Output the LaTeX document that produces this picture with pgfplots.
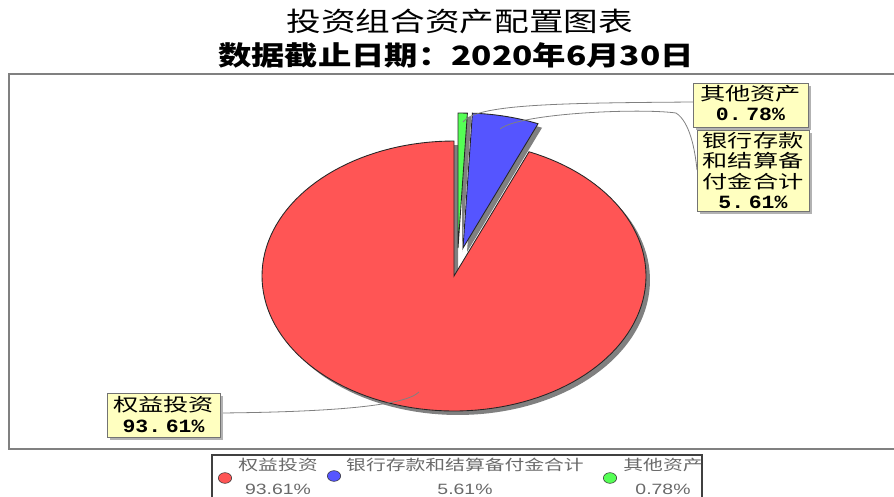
\documentclass[border=0pt]{standalone}
\usepackage{pgfplots}
\pgfplotsset{compat=1.18}
\usepackage{pgfplotstable}
\usepackage{graphicx}
\usepackage{fontspec}
\setmainfont{Liberation Sans}
\newfontfamily\cjk{Noto Sans CJK SC}
\newfontfamily\mono{Liberation Mono}
\definecolor{pieRed}{RGB}{255,85,85}
\definecolor{pieBlue}{RGB}{85,85,255}
\definecolor{pieGreen}{RGB}{85,255,85}
\definecolor{lblFill}{RGB}{255,255,192}
\definecolor{shadowGray}{RGB}{128,128,128}
\definecolor{legText}{RGB}{105,105,105}

% values (percent) of the three sections
\pgfplotstableread{
value
93.61
5.61
0.78
}\piedata

% one slice: #1 colour, #2 start angle, #3 end angle, #4 cx, #5 cy (pixel units, y downwards)
\newcommand\pieslice[5]{%
  \addplot[draw=none, fill=shadowGray, domain=#2:#3, samples=140, variable=\t]
    ({#4+4+192*cos(\t)}, {#5+4-135*sin(\t)}) -- (axis cs:#4+4,#5+4) -- cycle;
  \addplot[draw=black!85, line width=0.65pt, fill=#1, domain=#2:#3, samples=140, variable=\t]
    ({#4+192*cos(\t)}, {#5-135*sin(\t)}) -- (axis cs:#4,#5) -- cycle;
}
\newcommand\lbl[1]{\scalebox{1.4}[1]{\cjk\fontsize{13.5}{16}\selectfont #1}}
\newcommand\num[1]{\scalebox{1.15}[1]{\mono\bfseries\fontsize{14}{16}\selectfont #1}}
\newcommand\leg[1]{\scalebox{1.35}[1]{\cjk\fontsize{11}{13}\selectfont\color{legText}#1}}
\newcommand\legn[1]{\scalebox{1.3}[1]{\fontsize{11.2}{12}\selectfont\color{legText}#1}}

\begin{document}
\begin{tikzpicture}
\pgfplotstablegetelem{0}{value}\of\piedata \pgfmathsetmacro\vA{\pgfplotsretval}
\pgfplotstablegetelem{1}{value}\of\piedata \pgfmathsetmacro\vB{\pgfplotsretval}
\pgfplotstablegetelem{2}{value}\of\piedata \pgfmathsetmacro\vC{\pgfplotsretval}
\pgfmathsetmacro\aA{90}
\pgfmathsetmacro\aB{\aA+3.6*\vA}
\pgfmathsetmacro\aC{\aB+3.6*\vB}
\pgfmathsetmacro\aD{\aC+3.6*\vC}
\begin{axis}[
  width=670.5pt, height=372.75pt, scale only axis,
  xmin=0, xmax=894, ymin=0, ymax=497, y dir=reverse,
  hide axis, clip=false,
]
% plot frame
\draw[shadowGray, line width=1.5pt] (axis cs:9,74) rectangle (axis cs:910,449);

% titles
\node at (axis cs:460,21) {\scalebox{1.30}[1]{\cjk\fontsize{20}{24}\selectfont 投资组合资产配置图表}};
\node at (axis cs:456,55) {\scalebox{1.25}[1]{\cjk\bfseries\fontsize{20}{24}\selectfont 数据截止日期：2020年6月30日}};

% pie
\pieslice{pieRed}{\aA}{\aB}{454}{276}
\pieslice{pieBlue}{\aB}{\aC}{463}{248}
\pieslice{pieGreen}{\aC}{\aD}{458}{248}

% leader lines
\draw[shadowGray, line width=0.6pt] (axis cs:463,122) .. controls (axis cs:476,104) and (axis cs:560,103) .. (axis cs:693,102);
\draw[shadowGray, line width=0.6pt] (axis cs:500,129) .. controls (axis cs:520,113) and (axis cs:640,108) .. (axis cs:676,113)
      .. controls (axis cs:690,122) and (axis cs:695,150) .. (axis cs:697,170);
\draw[shadowGray, line width=0.6pt] (axis cs:220,413) .. controls (axis cs:330,412) and (axis cs:405,406) .. (axis cs:419,392);

% label boxes
\fill[black!30] (axis cs:696,86) rectangle (axis cs:811,130);
\filldraw[fill=lblFill, draw=black!55, line width=0.75pt] (axis cs:693,83) rectangle (axis cs:808,127);
\node at (axis cs:750.5,94) {\lbl{其他资产}};
\node at (axis cs:750.5,114) {\num{0.\kern3pt 78\%}};

\fill[black!30] (axis cs:700,133) rectangle (axis cs:812,214);
\filldraw[fill=lblFill, draw=black!55, line width=0.75pt] (axis cs:697,130) rectangle (axis cs:809,211);
\node at (axis cs:753,141) {\lbl{银行存款}};
\node at (axis cs:753,161) {\lbl{和结算备}};
\node at (axis cs:753,182) {\lbl{付金合计}};
\node at (axis cs:753,202) {\num{5.\kern3pt 61\%}};

\fill[black!30] (axis cs:110,396) rectangle (axis cs:223,440);
\filldraw[fill=lblFill, draw=black!55, line width=0.75pt] (axis cs:107,393) rectangle (axis cs:220,437);
\node at (axis cs:163.5,405) {\lbl{权益投资}};
\node at (axis cs:163.5,426) {\num{93.\kern3pt 61\%}};

% legend
\draw[black!75, line width=1.1pt] (axis cs:212,455) rectangle (axis cs:702,520);
\addplot[only marks, mark=*, mark size=4pt, mark options={fill=pieRed, draw=black!80, xscale=1.25}] coordinates {(225,478)};
\addplot[only marks, mark=*, mark size=4pt, mark options={fill=pieBlue, draw=black!80, xscale=1.25}] coordinates {(334,476)};
\addplot[only marks, mark=*, mark size=4pt, mark options={fill=pieGreen, draw=black!80, xscale=1.25}] coordinates {(610,478)};
\node at (axis cs:278,465) {\leg{权益投资}};
\node at (axis cs:278,489) {\legn{93.61\%}};
\node at (axis cs:465,465) {\leg{银行存款和结算备付金合计}};
\node at (axis cs:465,489) {\legn{5.61\%}};
\node at (axis cs:663,465) {\leg{其他资产}};
\node at (axis cs:663,489) {\legn{0.78\%}};
\end{axis}
\pgfresetboundingbox
\path[use as bounding box] (current axis.south west) rectangle (current axis.north east);
\end{tikzpicture}
\end{document}
